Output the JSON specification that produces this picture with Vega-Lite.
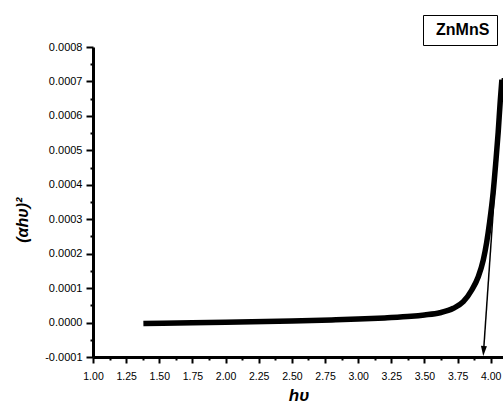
{
  "$schema": "https://vega.github.io/schema/vega-lite/v6.json",
  "autosize": "none",
  "padding": {"left": 93, "top": 47, "right": 0, "bottom": 50},
  "width": 411,
  "height": 310,
  "background": "white",
  "config": {
    "view": {"stroke": null},
    "font": "Liberation Sans",
    "axis": {"grid": false, "domainColor": "black", "tickColor": "black", "labelColor": "black", "titleColor": "black", "labelFont": "Liberation Sans", "titleFont": "Liberation Sans"},
    "legend": {"strokeColor": "black", "padding": 7}
  },
  "datasets": {
    "curve": [
      {"x": 1.38, "y": -0.000003, "s": "ZnMnS"},
      {"x": 1.75, "y": -0.0000005, "s": "ZnMnS"},
      {"x": 2.0, "y": 0.000001, "s": "ZnMnS"},
      {"x": 2.5, "y": 0.0000045, "s": "ZnMnS"},
      {"x": 2.8, "y": 0.0000075, "s": "ZnMnS"},
      {"x": 3.0, "y": 0.00001, "s": "ZnMnS"},
      {"x": 3.2, "y": 0.0000135, "s": "ZnMnS"},
      {"x": 3.4, "y": 0.000018, "s": "ZnMnS"},
      {"x": 3.5, "y": 0.000022, "s": "ZnMnS"},
      {"x": 3.617, "y": 0.0000286, "s": "ZnMnS"},
      {"x": 3.718, "y": 0.0000414, "s": "ZnMnS"},
      {"x": 3.793, "y": 0.0000606, "s": "ZnMnS"},
      {"x": 3.857, "y": 0.0000945, "s": "ZnMnS"},
      {"x": 3.906, "y": 0.000133, "s": "ZnMnS"},
      {"x": 3.944, "y": 0.000182, "s": "ZnMnS"},
      {"x": 3.969, "y": 0.000232, "s": "ZnMnS"},
      {"x": 3.991, "y": 0.00029, "s": "ZnMnS"},
      {"x": 4.018, "y": 0.000377, "s": "ZnMnS"},
      {"x": 4.038, "y": 0.000465, "s": "ZnMnS"},
      {"x": 4.056, "y": 0.000552, "s": "ZnMnS"},
      {"x": 4.071, "y": 0.000639, "s": "ZnMnS"},
      {"x": 4.084, "y": 0.000705, "s": "ZnMnS"}
    ],
    "arrow": [
      {"x": 4.088, "y": 0.00071, "x2": 3.946, "y2": -0.0000826}
    ],
    "head": [
      {"x": 3.946, "y": -0.0000826}
    ]
  },
  "resolve": {"axis": {"x": "independent", "y": "independent"}},
  "layer": [
    {
      "data": {"name": "curve"},
      "mark": {"type": "line", "strokeWidth": 5.5, "strokeCap": "butt", "interpolate": "monotone", "clip": false},
      "encoding": {
        "x": {
          "field": "x", "type": "quantitative",
          "scale": {"domain": [1, 4.1], "nice": false, "zero": false},
          "axis": {
            "orient": "bottom",
            "values": [1, 1.25, 1.5, 1.75, 2, 2.25, 2.5, 2.75, 3, 3.25, 3.5, 3.75, 4],
            "format": ".2f",
            "tickSize": 6,
            "tickWidth": 2,
            "domainWidth": 3,
            "labelFontSize": 10.5,
            "labelPadding": 8,
            "labelFlush": false,
            "labelOverlap": false,
            "title": "hυ",
            "titleFontSize": 17,
            "titleFontWeight": "bold",
            "titleFontStyle": "italic",
            "titlePadding": 6
          }
        },
        "y": {
          "field": "y", "type": "quantitative",
          "scale": {"domain": [-0.0001, 0.0008], "nice": false, "zero": false},
          "axis": {
            "orient": "left",
            "values": [-0.0001, 0, 0.0001, 0.0002, 0.0003, 0.0004, 0.0005, 0.0006, 0.0007, 0.0008],
            "labelExpr": "replace(format(datum.value, '.4f'), '\u2212', '-')",
            "tickSize": 7,
            "tickWidth": 2,
            "domainWidth": 3,
            "labelFontSize": 11,
            "labelPadding": 4,
            "labelFlush": false,
            "labelOverlap": false,
            "title": "(αhυ)²\u00a0\u00a0\u00a0\u00a0\u00a0\u00a0\u00a0\u00a0\u200b",
            "titleFontSize": 16,
            "titleFontWeight": "bold",
            "titleFontStyle": "italic",
            "titlePadding": 14
          }
        },
        "color": {
          "field": "s", "type": "nominal",
          "scale": {"range": ["black"]},
          "legend": {
            "title": null,
            "orient": "none",
            "legendX": 330,
            "legendY": -32,
            "symbolSize": 1,
            "symbolOpacity": 0,
            "symbolStrokeWidth": 0,
            "labelOffset": -10,
            "labelFontSize": 16,
            "labelFontWeight": "bold",
            "labelFont": "Liberation Sans",
            "labelColor": "black",
            "padding": 7
          }
        }
      }
    },
    {
      "data": {"name": "arrow"},
      "mark": {"type": "rule", "strokeWidth": 1.5, "color": "black", "clip": false},
      "encoding": {
        "x": {
          "field": "x", "type": "quantitative",
          "axis": {
            "orient": "bottom",
            "values": [1.125, 1.375, 1.625, 1.875, 2.125, 2.375, 2.625, 2.875, 3.125, 3.375, 3.625, 3.875],
            "labels": false, "domain": false, "title": null,
            "tickSize": 3, "tickWidth": 2
          }
        },
        "y": {
          "field": "y", "type": "quantitative",
          "axis": {
            "orient": "left",
            "values": [-0.00005, 0.00005, 0.00015, 0.00025, 0.00035, 0.00045, 0.00055, 0.00065, 0.00075],
            "labels": false, "domain": false, "title": null,
            "tickSize": 3, "tickWidth": 2
          }
        },
        "x2": {"field": "x2"},
        "y2": {"field": "y2"}
      }
    },
    {
      "data": {"name": "head"},
      "mark": {"type": "point", "shape": "M-0.6,-1L0.6,-1L0,1Z", "size": 100, "filled": true, "color": "black", "opacity": 1, "angle": 4, "clip": false},
      "encoding": {
        "x": {"field": "x", "type": "quantitative", "axis": null},
        "y": {"field": "y", "type": "quantitative", "axis": null}
      }
    }
  ]
}
